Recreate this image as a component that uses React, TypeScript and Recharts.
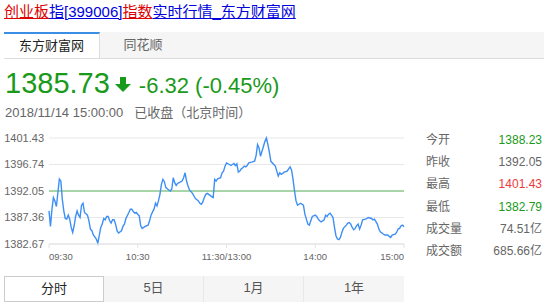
import { CartesianGrid, Line, LineChart, ReferenceLine, XAxis, YAxis } from 'recharts';

// minute index from 09:30 (lunch break folded), price
const minutes = [
  0, 1, 2, 3, 4, 5, 7, 8, 9, 10, 11, 12, 13, 14, 15, 16, 17, 18, 19, 20, 21, 22, 23, 24, 26, 27, 28, 29, 30, 32, 33,
  35, 36, 37, 38, 39, 40, 41, 42, 43, 44, 45, 46, 47, 49, 50, 51, 52, 54, 55, 56, 57, 58, 59, 60, 61, 62, 63, 64, 65,
  67, 68, 69, 70, 71, 72, 73, 74, 75, 76, 77, 78, 79, 81, 82, 83, 84, 85, 86, 87, 88, 90, 91, 92, 93, 94, 95, 97, 98,
  99, 101, 102, 103, 104, 105, 106, 107, 108, 110, 111, 112, 113, 114, 116, 117, 118, 119, 120, 122, 123, 125, 126,
  127, 128, 129, 130, 131, 132, 133, 134, 135, 137, 139, 140, 141, 142, 143, 144, 145, 146, 147, 148, 149, 150, 152,
  153, 154, 155, 156, 157, 158, 159, 161, 162, 163, 164, 165, 166, 167, 168, 169, 170, 172, 173, 174, 175, 176, 177,
  178, 180, 181, 182, 183, 184, 186, 187, 188, 189, 190, 191, 192, 193, 194, 195, 196, 197, 198, 199, 201, 202, 203,
  204, 205, 206, 207, 208, 209, 210, 211, 212, 214, 215, 216, 218, 219, 220, 222, 223, 224, 226, 227, 229, 230, 231,
  232, 234, 235, 236, 237, 238, 239, 240,
];

const prices = [
  1388.54, 1385.78, 1388.83, 1390.88, 1390.3, 1389.3, 1394.15, 1393.81, 1390.59, 1388.54, 1387.19, 1387.07, 1387.78,
  1387.07, 1385.61, 1384.73, 1385.9, 1387.54, 1388.54, 1387.78, 1387.37, 1389.53, 1389.89, 1388.25, 1387.78, 1386.78,
  1385.31, 1385.02, 1384.26, 1383.56, 1382.79, 1385.61, 1386.19, 1387.19, 1386.96, 1387.54, 1387.54, 1386.78, 1386.37,
  1386.96, 1386.96, 1386.19, 1385.02, 1384.61, 1385.02, 1385.78, 1386.19, 1387.19, 1388.25, 1388.83, 1388.83, 1388.42,
  1388.13, 1388.25, 1387.95, 1387.66, 1385.9, 1385.43, 1385.6, 1385.78, 1386.01, 1386.77, 1387.77, 1388.36, 1388.83,
  1389.88, 1389.41, 1390.29, 1391.46, 1393.22, 1394.1, 1393.7, 1392.64, 1392.23, 1392.05, 1392.4, 1394.4, 1393.52,
  1393.05, 1393.4, 1393.52, 1393.81, 1394.4, 1395.27, 1393.81, 1392.93, 1392.23, 1391.64, 1391.17, 1390.7, 1390.29,
  1389.88, 1389.71, 1390.12, 1390.88, 1391.46, 1391.64, 1391.46, 1391.05, 1390.88, 1394.1, 1393.81, 1394.22, 1394.4,
  1395.27, 1395.57, 1396.45, 1397.03, 1396.74, 1396.56, 1396.92, 1396.56, 1396.86, 1395.39, 1395.57, 1395.98, 1396.15,
  1396.45, 1396.33, 1396.56, 1397.03, 1397.15, 1397.33, 1398.32, 1400.26, 1399.67, 1398.21, 1399.09, 1399.96, 1400.84,
  1401.43, 1400.26, 1398.9, 1397.3, 1396.74, 1396.45, 1395.57, 1394.69, 1395.27, 1394.98, 1395.16, 1395.39, 1395.57,
  1395.98, 1396.33, 1395.74, 1394.1, 1392.05, 1390.29, 1389.53, 1389.71, 1389.88, 1389.53, 1387.95, 1387.07, 1386.19,
  1386.01, 1386.77, 1387.54, 1387.77, 1387.54, 1387.07, 1386.77, 1386.6, 1386.95, 1387.77, 1387.54, 1387.95, 1388.12,
  1387.77, 1387.36, 1385.6, 1384.14, 1383.55, 1383.43, 1383.84, 1384.72, 1385.43, 1386.01, 1386.37, 1386.48, 1386.19,
  1385.6, 1385.19, 1385.43, 1385.9, 1386.19, 1385.31, 1386.01, 1386.95, 1387.07, 1387.19, 1387.36, 1387.19, 1386.95,
  1387.07, 1386.19, 1385.31, 1384.84, 1384.43, 1384.25, 1384.25, 1384.02, 1383.84, 1384.25, 1384.43, 1384.72, 1385.31,
  1385.43, 1385.9, 1386.01, 1385.73,
];

const priceTicks = [1382.67, 1387.36, 1392.05, 1396.74, 1401.43];
const prevClose = 1392.05;
const timeTicks = [0, 60, 120, 180, 240];
const timeLabels = ['09:30', '10:30', '11:30/13:00', '14:00', '15:00'];

const statLabels = ['今开', '昨收', '最高', '最低', '成交量', '成交额'];
const statValues = ['1388.23', '1392.05', '1401.43', '1382.79', '74.51亿', '685.66亿'];
const statColors = ['#1a9a1a', '#666', '#f03a3a', '#1a9a1a', '#666', '#666'];

const periodTabs = ['分时', '5日', '1月', '1年'];

const data = minutes.map((m, i) => ({ m, v: prices[i] }));

const FONT = "Arial, 'Liberation Sans', 'Noto Sans CJK SC', sans-serif";
const GREEN = '#1a9a1a';
const RED = '#dd0000';
const BLUE = '#0000dd';

function TimeTick({ x, y, payload, index }: any) {
  const anchor = index === 0 ? 'start' : index === timeTicks.length - 1 ? 'end' : 'middle';
  return (
    <text x={x} y={y} dy={10} textAnchor={anchor} fill="#666" fontSize={9.5} fontFamily={FONT}>
      {timeLabels[timeTicks.indexOf(payload.value)]}
    </text>
  );
}

export default function App() {
  return (
    <div style={{ position: 'relative', width: 548, height: 307, fontFamily: FONT, background: '#fff', overflow: 'hidden' }}>
      <style>{'body{margin:0}'}</style>

      <div style={{ position: 'absolute', left: 4, top: 3, fontSize: 15, lineHeight: '18px', whiteSpace: 'nowrap' }}>
        <span style={{ color: RED, textDecoration: 'underline' }}>创业板</span>
        <span style={{ color: BLUE, textDecoration: 'underline' }}>指[399006]</span>
        <span style={{ color: RED, textDecoration: 'underline' }}>指数</span>
        <span style={{ color: BLUE, textDecoration: 'underline' }}>实时行情_东方财富网</span>
      </div>

      <div style={{ position: 'absolute', left: 4, top: 32, width: 540, height: 26, background: '#f5f5f5', borderBottom: '1px solid #ddd' }}>
        <div style={{ position: 'absolute', left: 0, top: 0, width: 96, height: 26, background: '#fff', borderTop: '2px solid #3a8ee6', borderRight: '1px solid #ddd', boxSizing: 'border-box', textAlign: 'center', lineHeight: '24px', fontSize: 13, color: '#222' }}>
          东方财富网
        </div>
        <div style={{ position: 'absolute', left: 96, top: 0, width: 86, height: 26, textAlign: 'center', lineHeight: '26px', fontSize: 13, color: '#666' }}>
          同花顺
        </div>
      </div>

      <div style={{ position: 'absolute', left: 5, top: 68, display: 'flex', alignItems: 'baseline', color: GREEN, whiteSpace: 'nowrap' }}>
        <span style={{ fontSize: 29, lineHeight: '30px' }}>1385.73</span>
        <svg width={16} height={16} viewBox="0 0 16 16" style={{ margin: '0 8px 0 5px' }}>
          <rect x={5} y={0} width={6} height={8} fill={GREEN} />
          <polygon points="0,7 16,7 8,15" fill={GREEN} />
        </svg>
        <span style={{ fontSize: 22, lineHeight: '30px' }}>-6.32 (-0.45%)</span>
      </div>

      <div style={{ position: 'absolute', left: 5, top: 105, fontSize: 13, lineHeight: '15px', color: '#666', whiteSpace: 'pre' }}>
        {'2018/11/14 15:00:00   已收盘（北京时间）'}
      </div>

      <div style={{ position: 'absolute', left: 0, top: 128 }}>
        <LineChart width={410} height={138} data={data} margin={{ top: 10, right: 6, bottom: 0, left: 4 }}>
          <CartesianGrid horizontal vertical={false} stroke="#e8e8e8" />
          <XAxis
            dataKey="m"
            type="number"
            domain={[0, 240]}
            ticks={timeTicks}
            height={22}
            axisLine={{ stroke: '#e2e2e2' }}
            tickLine={{ stroke: '#e2e2e2' }}
            tickSize={4}
            tick={<TimeTick />}
            interval={0}
          />
          <YAxis
            type="number"
            domain={[priceTicks[0], priceTicks[priceTicks.length - 1]]}
            ticks={priceTicks}
            width={45}
            axisLine={false}
            tickLine={false}
            tickSize={3}
            tickMargin={2}
            tick={{ fill: '#666', fontSize: 11, fontFamily: FONT }}
            tickFormatter={(v: number) => v.toFixed(2)}
            interval={0}
          />
          <ReferenceLine y={prevClose} stroke="#5cb85c" strokeWidth={1.2} />
          <Line type="linear" dataKey="v" stroke="#3d8ff5" strokeWidth={1.4} dot={false} isAnimationActive={false} />
        </LineChart>
      </div>

      {statLabels.map((label, i) => (
        <div key={label} style={{ position: 'absolute', left: 426, top: 129 + i * 22.2, width: 116, height: 22, lineHeight: '22px', fontSize: 12 }}>
          <span style={{ color: '#666' }}>{label}</span>
          <span style={{ position: 'absolute', right: 0, color: statColors[i] }}>{statValues[i]}</span>
        </div>
      ))}

      <div style={{ position: 'absolute', left: 4, top: 276, width: 400, height: 26, display: 'flex', background: '#f5f5f5' }}>
        {periodTabs.map((t, i) => (
          <div
            key={t}
            style={{
              width: 100,
              height: 26,
              boxSizing: 'border-box',
              textAlign: 'center',
              lineHeight: '24px',
              fontSize: 13,
              color: i === 0 ? '#222' : '#555',
              background: i === 0 ? '#fff' : 'transparent',
              border: i === 0 ? '1px solid #ccc' : 'none',
              borderRight: i === 0 ? '1px solid #ccc' : i < periodTabs.length - 1 ? '1px solid #e8e8e8' : 'none',
            }}
          >
            {t}
          </div>
        ))}
      </div>
    </div>
  );
}
